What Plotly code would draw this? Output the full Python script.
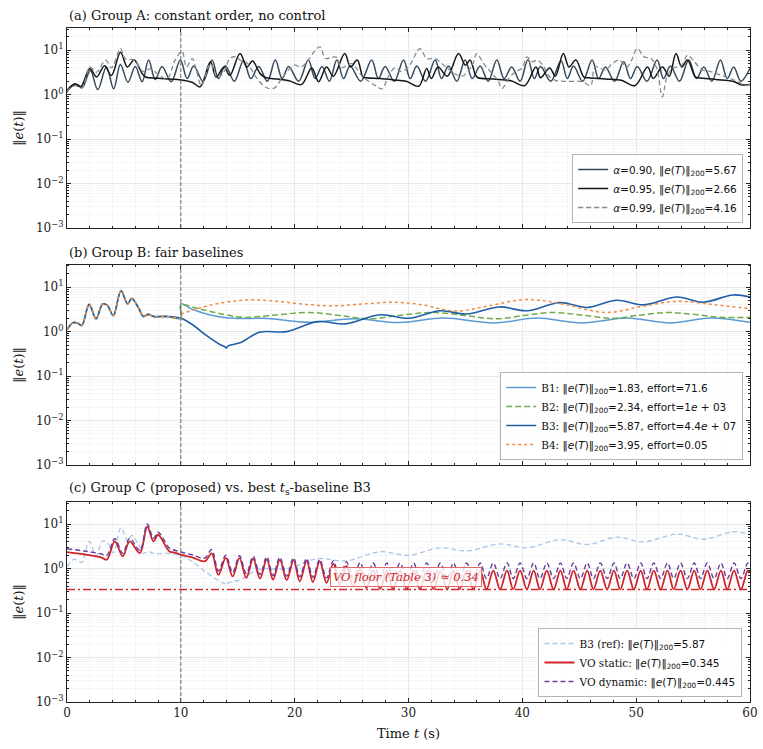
import plotly.graph_objects as go
from plotly.subplots import make_subplots

# ---------------- panel (a): constant order, no control ----------------
a90_t = [0.0, 0.45, 0.9, 1.35, 2.05, 2.7, 3.46, 4.1, 4.69, 5.35, 6.0, 6.6, 7.17, 7.75, 8.35, 9.15,
         9.96, 10.55, 11.13, 11.95, 12.74, 13.3, 13.91, 14.7, 15.5, 16.15, 16.84, 17.6, 18.3, 18.9,
         19.47, 20.35, 21.2, 21.8, 22.4, 23.05, 23.7, 24.3, 24.87, 25.8, 26.77, 27.35, 27.95, 28.75,
         29.56, 30.15, 30.73, 31.5, 32.34, 32.9, 33.51, 34.25, 34.97, 35.6, 36.29, 37.0, 37.76, 38.4,
         39.07, 39.8, 40.5, 41.05, 41.6, 42.5, 43.4, 43.95, 44.5, 45.3, 46.13, 46.7, 47.3, 48.1, 48.9,
         49.5, 50.1, 50.95, 51.84, 52.4, 53.01, 53.8, 54.62, 55.3, 55.94, 56.65, 57.4, 58.0, 58.57,
         59.2, 60.0]
a90_e = [1.15, 1.55, 1.7, 1.45, 3.5, 1.3, 4.2, 1.35, 4.8, 1.9, 4.3, 1.95, 6.0, 2.2, 4.3, 1.95,
         6.0, 2.3, 4.4, 2.0, 6.0, 2.3, 4.5, 2.0, 5.8, 2.3, 4.3, 2.0, 6.0, 2.3,
         4.3, 2.0, 6.0, 2.3, 4.3, 2.0, 6.0, 2.3, 4.5, 2.0, 6.0, 2.3, 4.3, 2.0,
         6.0, 2.3, 4.4, 2.0, 6.0, 2.3, 4.4, 2.0, 6.0, 2.3, 4.4, 2.0, 6.0, 2.3,
         4.2, 2.0, 6.2, 2.3, 4.3, 2.0, 5.8, 2.3, 4.4, 2.0, 6.0, 2.3, 4.2, 2.0, 5.5,
         2.3, 4.3, 2.0, 6.0, 2.3, 4.4, 2.0, 6.0, 2.3, 4.2, 2.0, 6.0, 2.3, 4.2,
         2.0, 3.9]

a95_t = [0.0, 0.7, 1.2, 2.0, 2.6, 3.3, 3.9, 4.7, 5.3, 5.9, 6.6, 6.9, 8.0, 9.0, 10.0, 11.0, 11.7,
         12.6, 13.1, 13.8, 14.3, 15.2, 15.8, 16.3, 17.0, 17.5, 18.5, 19.5, 20.6, 21.5, 22.1, 22.8,
         23.4, 24.4, 24.9, 25.5, 26.0, 26.3, 27.5, 28.7, 29.8, 30.9, 31.6, 32.0, 32.6, 33.4, 34.4,
         35.0, 35.4, 35.9, 36.1, 37.5, 39.0, 40.2, 41.2, 41.6, 42.4, 42.9, 43.6, 44.1, 44.7, 45.4,
         45.8, 47.3, 48.7, 49.9, 51.0, 51.5, 52.3, 52.9, 53.5, 54.0, 54.5, 55.2, 55.5, 57.0, 58.5,
         59.3, 60.0]
a95_e = [1.25, 1.75, 1.5, 3.9, 2.5, 4.5, 2.7, 9.0, 4.2, 6.0, 3.0, 2.5, 2.35, 2.25, 2.15, 1.9, 1.5,
         5.5, 2.5, 4.2, 2.7, 8.4, 4.2, 5.7, 2.9, 2.4, 2.25, 2.05, 1.7, 4.0, 1.95, 4.2,
         2.6, 8.4, 4.2, 6.0, 2.5, 2.4, 2.3, 2.15, 2.0, 1.55, 3.9, 2.3, 4.2, 2.6, 8.4,
         4.6, 6.0, 2.7, 2.4, 2.25, 2.05, 1.6, 4.2, 2.4, 4.0, 2.6, 8.4, 4.2, 6.0, 2.5,
         2.4, 2.25, 2.1, 1.6, 4.2, 2.3, 4.2, 2.6, 8.4, 4.2, 6.0, 2.5, 2.4, 2.2, 2.0,
         1.65, 1.7]

a99_t = [0.0, 0.7, 1.3, 2.0, 2.6, 3.4, 3.9, 4.7, 5.1, 5.9, 6.7, 7.3, 8.0, 8.8, 9.5, 10.1, 10.5,
         11.0, 11.4, 11.8, 12.6, 13.2, 13.8, 14.3, 14.8, 15.3, 15.8, 16.7, 17.5, 18.2, 19.0, 20.0,
         20.6, 22.2, 22.7, 23.3, 23.7, 24.1, 25.0, 26.0, 27.1, 27.7, 28.2, 28.8, 29.4, 30.1, 31.0,
         31.6, 32.3, 33.1, 33.8, 34.7, 35.6, 36.0, 36.6, 37.2, 37.9, 38.2, 38.8, 39.4, 40.0, 40.4,
         40.9, 41.3, 41.8, 42.3, 42.9, 43.8, 45.3, 46.0, 46.4, 47.3, 47.9, 48.5, 49.2, 49.6, 50.1,
         50.7, 51.3, 51.8, 52.3, 52.7, 53.2, 54.0, 54.5, 55.0, 55.8, 56.4, 57.5, 58.7, 59.6, 60.0]
a99_e = [1.2, 1.6, 1.4, 4.2, 3.2, 6.0, 4.0, 10.9, 6.5, 6.0, 3.3, 3.8, 2.9, 2.3, 6.0, 9.5, 4.2,
         6.5, 3.3, 1.6, 5.0, 2.4, 3.3, 6.5, 7.1, 5.8, 5.2, 2.3, 1.45, 1.4, 2.6, 4.6,
         4.2, 11.9, 6.5, 7.0, 6.9, 4.0, 5.0, 2.5, 1.6, 1.35, 2.5, 4.0, 3.3, 4.6, 10.9,
         6.5, 6.5, 4.6, 3.3, 2.6, 4.6, 8.4, 5.0, 3.3, 2.0, 1.37, 2.3, 3.3, 4.0, 7.1,
         5.5, 6.0, 4.6, 2.7, 2.1, 2.0, 1.95, 1.6, 4.2, 3.6, 5.0, 6.0, 4.2, 6.0, 10.9,
         7.1, 6.5, 4.0, 0.89, 2.5, 3.9, 4.6, 7.7, 6.0, 3.6, 3.4, 2.7, 2.1, 1.6, 1.7]

# ---------------- panel (b): fair baselines ----------------
pre_t = [0.0, 0.55, 0.95, 1.3, 1.95, 2.55, 3.13, 3.55, 4.07, 4.74, 5.33, 5.68, 6.27, 6.7, 7.15,
         7.6, 8.8, 10.0]
pre_e = [1.1, 1.6, 1.55, 1.38, 4.1, 1.95, 4.2, 3.9, 2.3, 8.3, 4.2, 5.6, 3.5, 2.2, 2.45,
         2.2, 2.2, 2.0]

b1_t = [10.0, 11.0, 12.5, 14.0, 15.5, 17.3, 21.3, 25.2, 29.2, 33.1, 37.5, 41.3, 45.2, 49.2, 53.0,
        56.5, 60.0]
b1_e = [4.2, 3.2, 2.4, 2.05, 1.97, 2.0, 1.62, 1.95, 1.6, 2.03, 1.57, 2.03, 1.57, 2.03, 1.57,
        2.03, 1.62]

b2_t = [10.0, 11.5, 13.0, 15.5, 18.5, 21.3, 24.0, 26.6, 29.3, 32.2, 35.0, 37.8, 40.3, 42.7, 45.3,
        48.0, 50.3, 52.7, 55.0, 57.4, 60.0]
b2_e = [3.9, 3.3, 2.7, 2.1, 2.4, 2.7, 2.3, 1.95, 2.35, 2.7, 2.3, 1.95, 2.35, 2.7, 2.35,
        2.0, 2.35, 2.7, 2.45, 2.1, 2.1]

b3_t = [11.0, 12.3, 13.4, 13.85, 14.0, 14.15, 15.2, 16.9, 19.3, 22.0, 24.5, 27.5, 30.0, 32.8,
        35.1, 38.0, 40.4, 43.3, 45.7, 48.3, 50.6, 53.6, 55.9, 58.5, 60.0]
b3_e = [1.45, 0.8, 0.52, 0.46, 0.43, 0.48, 0.56, 0.97, 1.0, 1.68, 1.5, 2.4, 2.0, 2.95,
        2.5, 3.6, 2.95, 4.5, 3.5, 5.1, 4.0, 6.0, 4.6, 6.7, 6.0]

b4_t = [10.0, 11.0, 12.5, 14.5, 16.4, 18.5, 21.0, 23.4, 26.0, 28.7, 31.0, 34.2, 37.0, 40.4, 43.5,
        47.4, 50.5, 53.6, 57.0, 60.0]
b4_e = [2.4, 3.0, 3.9, 4.8, 5.2, 4.8, 4.1, 3.8, 4.2, 4.6, 4.1, 2.9, 3.8, 5.3, 4.2,
        2.7, 3.7, 4.8, 4.0, 3.3]

# ---------------- panel (c): proposed VO controllers ----------------
vo_floor = 0.34
vo_t = [0.0, 1.5, 3.0, 3.5, 4.2, 4.9, 5.5, 6.4, 7.05, 7.6, 8.0, 9.0, 9.5, 10.0, 11.0, 12.1,
        12.7, 13.3, 13.95, 14.55, 15.15, 15.75, 16.35, 16.95, 17.55, 18.1, 18.7, 19.3, 19.9, 20.45,
        21.05, 21.6, 22.2, 22.8, 23.4, 23.95, 24.55, 25.15, 25.75, 26.3, 26.9, 27.5, 28.1, 28.65,
        29.25, 29.85, 30.45, 31.0, 31.6, 32.2, 32.8, 33.4, 33.95, 34.5, 35.1, 35.7, 36.3, 36.85,
        37.45, 38.05, 38.65, 39.2, 39.8, 40.4, 41.0, 41.55, 42.15, 42.75, 43.35, 43.9, 44.5, 45.1,
        45.7, 46.25, 46.85, 47.45, 48.05, 48.6, 49.2, 49.8, 50.4, 50.95, 51.55, 52.15, 52.75, 53.3,
        53.9, 54.5, 55.1, 55.65, 56.25, 56.85, 57.45, 58.0, 58.6, 59.2, 59.8, 60.0]
vo_static = [2.35, 2.1, 1.8, 1.6, 4.1, 1.9, 4.1, 2.25, 8.9, 4.1, 5.8, 2.45, 2.3, 2.06, 1.8, 1.46,
             2.2, 0.73, 1.75, 0.67, 1.72, 0.62, 1.68, 0.6, 1.62, 0.57, 1.58, 0.55, 1.55, 0.52,
             1.5, 0.5, 1.46, 0.48, 1.3, 0.44, 1.15, 0.4, 1.0, 0.37, 0.92, 0.35, 0.9, 0.345,
             0.9, 0.345, 0.9, 0.345, 0.9, 0.345, 0.9, 0.345, 0.9, 0.345, 0.9, 0.345, 0.9, 0.345,
             0.9, 0.345, 0.9, 0.345, 0.9, 0.345, 0.9, 0.345, 0.9, 0.345, 0.9, 0.345, 0.9, 0.345,
             0.9, 0.345, 0.9, 0.345, 0.9, 0.345, 0.9, 0.345, 0.9, 0.345, 0.9, 0.345, 0.9, 0.345,
             0.9, 0.345, 0.9, 0.345, 0.9, 0.345, 0.9, 0.345, 0.9, 0.345, 0.9, 0.8]
vo_dynamic = [2.8, 2.5, 2.15, 2.0, 4.7, 2.2, 4.8, 2.6, 10.1, 4.8, 6.6, 2.9, 2.6, 2.37, 2.05, 1.74,
              2.7, 0.9, 2.0, 0.82, 1.95, 0.78, 1.9, 0.74, 1.85, 0.7, 1.8, 0.68, 1.75, 0.66,
              1.7, 0.64, 1.6, 0.62, 1.5, 0.6, 1.42, 0.6, 1.38, 0.6, 1.34, 0.6, 1.34, 0.6,
              1.34, 0.6, 1.34, 0.6, 1.34, 0.6, 1.34, 0.6, 1.34, 0.6, 1.34, 0.6, 1.34, 0.6,
              1.34, 0.6, 1.34, 0.6, 1.34, 0.6, 1.34, 0.6, 1.34, 0.6, 1.34, 0.6, 1.34, 0.6,
              1.34, 0.6, 1.34, 0.6, 1.34, 0.6, 1.34, 0.6, 1.34, 0.6, 1.34, 0.6, 1.34, 0.6,
              1.34, 0.6, 1.34, 0.6, 1.34, 0.6, 1.34, 0.6, 1.34, 0.6, 1.34, 1.15]

# y tick labels
y_ticks = [1e-3, 1e-2, 1e-1, 1e0, 1e1]
y_ticktext = ["10<sup>−3</sup>", "10<sup>−2</sup>", "10<sup>−1</sup>", "10<sup>0</sup>", "10<sup>1</sup>"]

SERIF = "DejaVu Serif"
SANS = "DejaVu Sans"
NORM = "‖<i>e</i>(<i>T</i>)‖<sub>200</sub>"


def lab(head, rest):
    return f"<span style='font-family:{SERIF}'>{head}</span> {rest}"


fig = make_subplots(rows=3, cols=1)

line_kw = dict(mode="lines", line_shape="spline")

# (a)
fig.add_trace(go.Scatter(x=a90_t, y=a90_e, name=f"<i>α</i>=0.90, {NORM}=5.67", legend="legend",
                         line=dict(color="#34495e", width=1.5), **line_kw), row=1, col=1)
fig.add_trace(go.Scatter(x=a95_t, y=a95_e, name=f"<i>α</i>=0.95, {NORM}=2.66", legend="legend",
                         line=dict(color="#151515", width=1.5), **line_kw), row=1, col=1)
fig.add_trace(go.Scatter(x=a99_t, y=a99_e, name=f"<i>α</i>=0.99, {NORM}=4.16", legend="legend",
                         line=dict(color="#858c91", width=1.3, dash="5px,3px"), **line_kw), row=1, col=1)

# (b)
fig.add_trace(go.Scatter(x=pre_t + b1_t, y=pre_e + b1_e, name=lab("B1:", f"{NORM}=1.83, effort=71.6"),
                         legend="legend2", line=dict(color="#5b9bd5", width=1.5), **line_kw), row=2, col=1)
fig.add_trace(go.Scatter(x=pre_t + b2_t, y=pre_e + b2_e,
                         name=lab("B2:", f"{NORM}=2.34, effort=1<i>e</i> + 03"),
                         legend="legend2", line=dict(color="#70ad47", width=1.5, dash="6px,3px"), **line_kw),
              row=2, col=1)
fig.add_trace(go.Scatter(x=pre_t + b3_t, y=pre_e + b3_e,
                         name=lab("B3:", f"{NORM}=5.87, effort=4.4<i>e</i> + 07"),
                         legend="legend2", line=dict(color="#1f5fa8", width=1.6), **line_kw), row=2, col=1)
fig.add_trace(go.Scatter(x=pre_t + b4_t, y=pre_e + b4_e, name=lab("B4:", f"{NORM}=3.95, effort=0.05"),
                         legend="legend2", line=dict(color="#f08a45", width=1.5, dash="dot"), **line_kw),
              row=2, col=1)

# (c)
fig.add_trace(go.Scatter(x=pre_t + b3_t, y=pre_e + b3_e, name=lab("B3 (ref):", f"{NORM}=5.87"),
                         legend="legend3", line=dict(color="#a9c6e6", width=1.3, dash="5px,3px"), **line_kw),
              row=3, col=1)
fig.add_trace(go.Scatter(x=[0, 60], y=[vo_floor, vo_floor], mode="lines", showlegend=False,
                         line=dict(color="#d62728", width=1.3, dash="8px,3px,2px,3px")), row=3, col=1)
fig.add_trace(go.Scatter(x=vo_t, y=vo_static, name=lab("VO static:", f"{NORM}=0.345"),
                         legend="legend3", line=dict(color="#d1232a", width=1.8), **line_kw), row=3, col=1)
fig.add_trace(go.Scatter(x=vo_t, y=vo_dynamic, name=lab("VO dynamic:", f"{NORM}=0.445"),
                         legend="legend3", line=dict(color="#6a3d9a", width=1.4, dash="5px,3px"), **line_kw),
              row=3, col=1)

# t = 10 marker in every panel
for r in (1, 2, 3):
    fig.add_vline(x=10, line=dict(color="#6a6a6a", width=1, dash="4px,2px"), row=r, col=1)

doms = [[0.7033, 1.0], [0.3516, 0.6484], [0.0, 0.2967]]
for i, dom in enumerate(doms, start=1):
    fig.update_xaxes(row=i, col=1, range=[0, 60], dtick=10, ticks="inside", ticklen=4, tickwidth=1,
                     tickcolor="#222", mirror="allticks", showline=True, linecolor="#222", linewidth=1,
                     showgrid=True, gridcolor="#e8e8e8", gridwidth=0.8, zeroline=False, automargin=False,
                     showticklabels=(i == 3), tickfont=dict(family=SERIF, size=12, color="#222"),
                     minor=dict(dtick=2, ticks="inside", ticklen=2, tickcolor="#222",
                                showgrid=True, gridcolor="#f4f4f4"))
    fig.update_yaxes(row=i, col=1, type="log", range=[-3, 1.5], tickvals=y_ticks, ticktext=y_ticktext,
                     domain=dom, ticks="inside", ticklen=4, tickwidth=1, tickcolor="#222",
                     mirror="allticks", showline=True, linecolor="#222", linewidth=1,
                     showgrid=True, gridcolor="#e8e8e8", gridwidth=0.8, zeroline=False, automargin=False,
                     tickfont=dict(family=SERIF, size=12, color="#222"),
                     title=dict(text="‖<i>e</i>(<i>t</i>)‖", font=dict(family=SERIF, size=13, color="#111"),
                                standoff=9),
                     minor=dict(dtick="D1", ticks="inside", ticklen=2, tickcolor="#222",
                                showgrid=True, gridcolor="#f6f6f6"))
    fig.update_xaxes(row=i, col=1, domain=[0, 1])

fig.update_xaxes(row=3, col=1, title=dict(text="Time <i>t</i> (s)", font=dict(family=SERIF, size=13, color="#111"),
                                          standoff=9))

titles = ["(a) Group A: constant order, no control",
          "(b) Group B: fair baselines",
          "(c) Group C (proposed) vs. best <i>t</i><sub>s</sub>-baseline B3"]
for txt, dom in zip(titles, doms):
    fig.add_annotation(text=txt, xref="paper", yref="paper", x=0, y=dom[1], xanchor="left",
                       yanchor="bottom", yshift=3, showarrow=False,
                       font=dict(family=SERIF, size=13, color="#111"))

fig.add_annotation(text="<i>VO floor (Table 3) ≈ 0.34</i>", xref="x3", yref="y3 domain", x=23.1, y=0.625,
                   xanchor="left", yanchor="middle", showarrow=False,
                   font=dict(family=SERIF, size=11.5, color="#d1232a"),
                   bgcolor="rgba(255,255,255,0.8)", bordercolor="#e06a6a", borderwidth=1, borderpad=2)

leg = dict(font=dict(family=SANS, size=10.5, color="#111"), bgcolor="rgba(255,255,255,0.9)",
           bordercolor="#b5b5b5", borderwidth=1, xanchor="right", yanchor="bottom", itemwidth=30,
           tracegroupgap=0)
fig.update_layout(
    width=763, height=749,
    margin=dict(l=67, r=13, t=28, b=47),
    paper_bgcolor="white", plot_bgcolor="white",
    legend=dict(x=0.99, y=0.7107, **leg),
    legend2=dict(x=0.99, y=0.359, **leg),
    legend3=dict(x=0.989, y=0.0074, **leg),
)

fig.write_html("out.html", config={"displayModeBar": False},
               post_script="document.body.style.margin='0';")
